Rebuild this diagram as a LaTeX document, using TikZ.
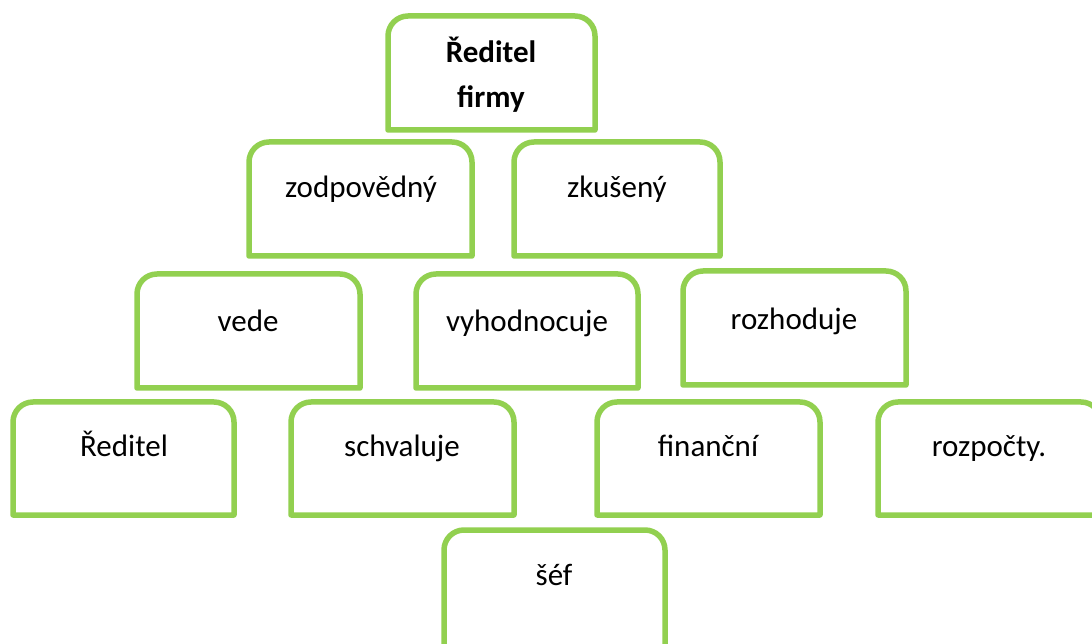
\documentclass[tikz,border=0pt]{standalone}
\usepackage{fontspec}
\setmainfont{Carlito}
\definecolor{boxgreen}{HTML}{92D050}
\tikzset{
  boxarea/.style={rectangle, draw=none, inner sep=0pt, outer sep=0pt},
  gline/.style={draw=boxgreen, line width=5.5pt, line join=round},
  lbl/.style={anchor=base, inner sep=0pt, font=\fontsize{31}{38}\selectfont},
  tlbl/.style={lbl, font=\fontsize{31}{38}\selectfont\bfseries}
}
% #1 name, #2 L, #3 T, #4 R, #5 B (px from top-left), #6 text x, #7 baseline y, #8 text
\newcommand\gbox[8]{%
  \node[boxarea, minimum width={(#4-#2)*1pt}, minimum height={(#5-#3)*1pt}] (#1) at ({(#2+#4)/2},{643-(#3+#5)/2}) {};
  \draw[gline] (#1.south west) -- ([yshift=-20pt]#1.north west) arc[start angle=180,end angle=90,radius=20pt] -- ([xshift=-20pt]#1.north east) arc[start angle=90,end angle=0,radius=20pt] -- (#1.south east) -- cycle;
  \node[lbl] (#1-t) at (#6,{643-#7}) {#8};
}
\begin{document}
\begin{tikzpicture}[x=1pt,y=1pt]
\useasboundingbox (0,0) rectangle (1092,643);
\clip (0,0) rectangle (1092,643);
% title box
\node[boxarea, minimum width=207pt, minimum height=114pt] (top) at (491.5,{643-73}) {};
\draw[gline] (top.south west) -- ([yshift=-20pt]top.north west) arc[start angle=180,end angle=90,radius=20pt] -- ([xshift=-20pt]top.north east) arc[start angle=90,end angle=0,radius=20pt] -- (top.south east) -- cycle;
\node[tlbl] (top-t1) at (491,{643-63}) {Ředitel};
\node[tlbl] (top-t2) at (491,{643-108}) {firmy};
\gbox{b2}{249}{142}{472}{256}{361}{198}{zodpovědný}
\gbox{b3}{514}{142}{720}{256}{617}{198}{zkušený}
\gbox{b4}{137}{274}{360}{388}{248}{332}{vede}
\gbox{b5}{416}{274}{638}{388}{527}{332}{vyhodnocuje}
\gbox{b6}{683}{271}{906}{385}{794}{330}{rozhoduje}
\gbox{b7}{13}{402}{234}{515}{124}{457}{Ředitel}
\gbox{b8}{291}{402}{514}{515}{402}{457}{schvaluje}
\gbox{b9}{597}{402}{820}{515}{708}{457}{finanční}
\gbox{b10}{878}{402}{1101}{515}{989}{457}{rozpočty.}
\gbox{b11}{444}{530}{665}{660}{554}{585}{šéf}
\end{tikzpicture}
\end{document}
